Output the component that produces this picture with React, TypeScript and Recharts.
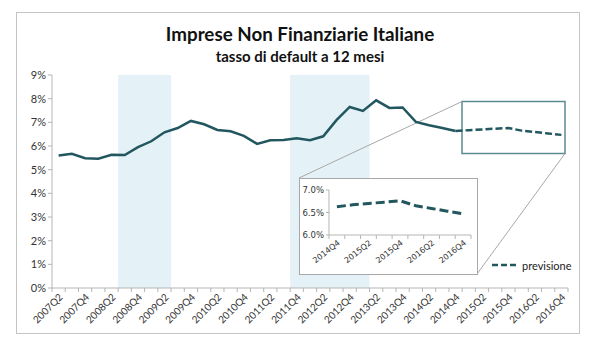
import React from 'react';
import {
  ComposedChart,
  Line,
  XAxis,
  YAxis,
  ReferenceArea,
  ReferenceLine,
} from 'recharts';

// ---------- data ----------
const quarters = [
  '2007Q2', '2007Q3', '2007Q4',
  '2008Q1', '2008Q2', '2008Q3', '2008Q4',
  '2009Q1', '2009Q2', '2009Q3', '2009Q4',
  '2010Q1', '2010Q2', '2010Q3', '2010Q4',
  '2011Q1', '2011Q2', '2011Q3', '2011Q4',
  '2012Q1', '2012Q2', '2012Q3', '2012Q4',
  '2013Q1', '2013Q2', '2013Q3', '2013Q4',
  '2014Q1', '2014Q2', '2014Q3', '2014Q4',
  '2015Q1', '2015Q2', '2015Q3', '2015Q4',
  '2016Q1', '2016Q2', '2016Q3', '2016Q4',
];

const actualValues = [
  5.6, 5.67, 5.48, 5.46, 5.63, 5.62, 5.95, 6.2, 6.58, 6.76, 7.06,
  6.92, 6.68, 6.62, 6.43, 6.09, 6.24, 6.25, 6.33, 6.24, 6.41, 7.09,
  7.65, 7.48, 7.93, 7.61, 7.63, 7.02, 6.88, 6.76, 6.63,
];

const forecastValues = [6.63, 6.67, 6.7, 6.73, 6.76, 6.65, 6.59, 6.53, 6.47];

const shadedPeriods = [
  ['2008Q3', '2009Q2'],
  ['2011Q4', '2013Q1'],
];

const yTicks = [0, 1, 2, 3, 4, 5, 6, 7, 8, 9];
const insetYTicks = [6, 6.5, 7];

const forecastStart = actualValues.length - 1;

const data = quarters.map((q, i) => ({
  q,
  idx: i,
  actual: i <= forecastStart ? actualValues[i] : null,
  forecast: i >= forecastStart ? forecastValues[i - forecastStart] : null,
}));

const insetData = data.slice(forecastStart).map((d, i) => ({ ...d, j: i }));

// ---------- layout ----------
const W = 600;
const H = 341;
const PLOT = { left: 52, right: 568, top: 75, bottom: 288 };
const N = quarters.length;
const BAND = (PLOT.right - PLOT.left) / N;
const toX = (px: number) => (px - PLOT.left) / BAND;
const toY = (py: number) => (PLOT.bottom - py) / ((PLOT.bottom - PLOT.top) / 9);

const INSET = { left: 299, top: 178, width: 179, height: 97 };
const INSET_MARGIN = { top: 11, right: 6, left: 4, bottom: 0 };
const INSET_YAXIS_W = 25;
const INSET_BAND =
  (INSET.width - 2 - INSET_MARGIN.left - INSET_MARGIN.right - INSET_YAXIS_W) / 9;
const BOX = { x1: toX(462), x2: toX(565), y1: toY(153.5), y2: toY(101.5) };

const LINE_COLOR = '#22575f';
const SHADE = '#e4f1f6';
const AXIS = '#b5b5b5';
const FONT = 'Lato, "Open Sans", sans-serif';
const INSET_FONT = '"DejaVu Sans", sans-serif';

function makeTick(band: number, count: number, fontSize: number, family: string, angle: number) {
  return function Tick(props: any) {
    const { x, y, payload, index } = props;
    const left = x - band / 2;
    const showLabel = index % 2 === 0;
    return (
      <g>
        <line x1={left} y1={y} x2={left} y2={y + 4} stroke={AXIS} />
        {index === count - 1 && (
          <line x1={left + band} y1={y} x2={left + band} y2={y + 4} stroke={AXIS} />
        )}
        {showLabel && (
          <text
            x={x + 2}
            y={y + 7}
            transform={`rotate(${angle} ${x + 2} ${y + 7})`}
            textAnchor="end"
            dominantBaseline="central"
            fontSize={fontSize}
            fontFamily={family}
            fill="#333"
          >
            {payload.value}
          </text>
        )}
      </g>
    );
  };
}

const MainTick = makeTick(BAND, N, 10, FONT, -45);
const InsetTick = makeTick(INSET_BAND, insetData.length, 8, INSET_FONT, -38);

export default function App() {
  return (
    <div
      style={{
        position: 'absolute',
        left: 0,
        top: 0,
        width: W,
        height: H,
        background: '#fff',
        fontFamily: FONT,
      }}
    >
      {/* outer frame */}
      <div
        style={{
          position: 'absolute',
          left: 16,
          top: 12,
          width: 564,
          height: 322,
          border: '1px solid #c4c4c4',
          boxSizing: 'border-box',
        }}
      />
      {/* titles */}
      <div
        style={{
          position: 'absolute',
          left: 0,
          width: W,
          top: 23,
          textAlign: 'center',
          fontWeight: 700,
          fontSize: 18.8,
          color: '#111',
          lineHeight: '22px',
        }}
      >
        Imprese Non Finanziarie Italiane
      </div>
      <div
        style={{
          position: 'absolute',
          left: 0,
          width: W,
          top: 47,
          textAlign: 'center',
          fontWeight: 700,
          fontSize: 15,
          color: '#111',
          lineHeight: '18px',
        }}
      >
        tasso di default a 12 mesi
      </div>

      <div style={{ position: 'absolute', left: 0, top: 0 }}>
        <ComposedChart
          width={W}
          height={H}
          data={data}
          margin={{ top: PLOT.top, right: W - PLOT.right, left: 12, bottom: 0 }}
        >
          <XAxis
            dataKey="q"
            type="category"
            scale="band"
            interval={0}
            height={H - PLOT.bottom}
            axisLine={{ stroke: AXIS }}
            tickLine={false}
            tickSize={0}
            tickMargin={0}
            tick={MainTick}
          />
          <XAxis
            xAxisId="num"
            type="number"
            dataKey="idx"
            domain={[0, N]}
            hide
            allowDataOverflow
          />
          <YAxis
            width={40}
            domain={[0, 9]}
            ticks={yTicks}
            interval={0}
            tickFormatter={(v: number) => `${v}%`}
            tickSize={4}
            axisLine={{ stroke: AXIS }}
            tickLine={{ stroke: AXIS }}
            tick={{ fontSize: 11, fill: '#333', fontFamily: FONT }}
          />
          {shadedPeriods.map(([a, b]) => (
            <ReferenceArea
              key={a}
              x1={a}
              x2={b}
              fill={SHADE}
              fillOpacity={1}
              stroke="none"
            />
          ))}
          <ReferenceLine
            xAxisId="num"
            segment={[
              { x: BOX.x1, y: BOX.y2 },
              { x: toX(INSET.left), y: toY(INSET.top) },
            ]}
            stroke="#a8a8a8"
            strokeWidth={1}
            ifOverflow="visible"
          />
          <ReferenceLine
            xAxisId="num"
            segment={[
              { x: BOX.x2, y: BOX.y1 },
              { x: toX(INSET.left + INSET.width - 1), y: toY(INSET.top + INSET.height - 1) },
            ]}
            stroke="#a8a8a8"
            strokeWidth={1}
            ifOverflow="visible"
          />
          <Line
            dataKey="actual"
            stroke={LINE_COLOR}
            strokeWidth={2.5}
            dot={false}
            activeDot={false}
            isAnimationActive={false}
            connectNulls={false}
          />
          <Line
            dataKey="forecast"
            stroke={LINE_COLOR}
            strokeWidth={2.5}
            strokeDasharray="7 3"
            dot={false}
            activeDot={false}
            isAnimationActive={false}
            connectNulls={false}
          />
          <ReferenceArea
            xAxisId="num"
            x1={BOX.x1}
            x2={BOX.x2}
            y1={BOX.y1}
            y2={BOX.y2}
            fill="none"
            fillOpacity={0}
            stroke="#5b8b90"
            strokeWidth={1.5}
            ifOverflow="visible"
          />
        </ComposedChart>
      </div>

      {/* inset */}
      <div
        style={{
          position: 'absolute',
          left: INSET.left,
          top: INSET.top,
          width: INSET.width,
          height: INSET.height,
          border: '1px solid #a8a8a8',
          boxSizing: 'border-box',
          background: '#fff',
        }}
      >
        <ComposedChart
          width={INSET.width - 2}
          height={INSET.height - 2}
          data={insetData}
          margin={INSET_MARGIN}
        >
          <XAxis
            dataKey="q"
            type="category"
            scale="band"
            interval={0}
            height={39}
            axisLine={{ stroke: AXIS }}
            tickLine={false}
            tickSize={0}
            tickMargin={0}
            tick={InsetTick}
          />
          <YAxis
            width={INSET_YAXIS_W}
            domain={[6, 7]}
            ticks={insetYTicks}
            interval={0}
            tickFormatter={(v: number) => `${v.toFixed(1)}%`}
            tickSize={3}
            axisLine={{ stroke: AXIS }}
            tickLine={{ stroke: AXIS }}
            tick={{ fontSize: 8.5, fill: '#333', fontFamily: INSET_FONT }}
          />
          <Line
            dataKey="forecast"
            stroke={LINE_COLOR}
            strokeWidth={3}
            strokeDasharray="9 4"
            dot={false}
            activeDot={false}
            isAnimationActive={false}
          />
        </ComposedChart>
      </div>

      {/* legend */}
      <div
        style={{
          position: 'absolute',
          left: 490,
          top: 258,
          display: 'flex',
          alignItems: 'center',
          fontSize: 11,
          color: '#222',
          fontFamily: FONT,
        }}
      >
        <svg width={28} height={14}>
          <line
            x1={2}
            y1={7}
            x2={26}
            y2={7}
            stroke={LINE_COLOR}
            strokeWidth={2.5}
            strokeDasharray="6 3"
          />
        </svg>
        <span style={{ marginLeft: 4 }}>previsione</span>
      </div>
    </div>
  );
}
